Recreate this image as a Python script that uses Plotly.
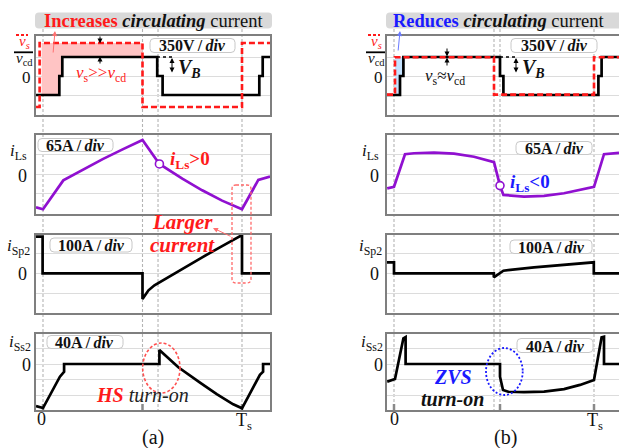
import plotly.graph_objects as go
import numpy as np

W, H = 619, 448
def X(px): return px / W
def Y(py): return 1 - py / H

# ---------------- data (t in units of Ts, y in divisions) ----------------
# (a) left column
a_vcd_t = [-0.035, 0.082, 0.082, 0.097, 0.097, 0.574, 0.574, 0.601, 0.601, 1.087, 1.087, 1.104, 1.104, 1.141]
a_vcd_y = [-1, -1, 0, 0, 1, 1, 0, 0, -1, -1, 0, 0, 1, 1]
a_vs_t = [-0.035, -0.017, -0.017, 0.5, 0.5, 1.0, 1.0, 1.141]
a_vs_y = [-1.63, -1.63, 1.74, 1.74, -1.63, -1.63, 1.74, 1.74]
a_fill_span = [-0.007, 0.5]
a_iLs_t = [-0.035, 0.0, 0.102, 0.2, 0.3, 0.4, 0.5, 0.585, 0.7, 0.8, 0.9, 1.0, 1.082, 1.141]
a_iLs_y = [-1.69, -1.79, -0.31, 0.24, 0.78, 1.28, 1.76, 0.53, -0.22, -0.82, -1.35, -1.79, -0.29, -0.12]
a_iLs_mark_t = [0.585]
a_iLs_mark_y = [0.53]
a_iSp2_t = [-0.035, -0.002, -0.002, 0.5, 0.5, 0.53, 0.56, 0.605, 0.7, 0.8, 0.9, 1.0, 1.0, 1.141]
a_iSp2_y = [1.83, 1.83, 0, 0, -1.29, -0.85, -0.6, -0.33, 0.24, 0.8, 1.36, 1.91, 0, 0]
a_iSs2_t = [-0.035, 0.0, 0.085, 0.106, 0.106, 0.585, 0.585, 0.68, 0.789, 0.873, 0.956, 1.0, 1.09, 1.106, 1.106, 1.141]
a_iSs2_y = [-2.71, -2.84, -0.82, -0.5, 0, 0, 0.9, -0.21, -1.2, -1.94, -2.6, -2.86, -0.7, -0.5, 0, 0]
a_vlines = [0.0, 0.5, 0.578, 1.0]
a_ticks = [0.0, 0.5, 1.0]

# (b) right column
b_vcd_t = [-0.035, 0.03, 0.03, 0.047, 0.047, 0.53, 0.53, 0.547, 0.547, 1.022, 1.022, 1.038, 1.038, 1.125]
b_vcd_y = [-1, -1, 0, 0, 1, 1, 0, 0, -1, -1, 0, 0, 1, 1]
b_vs_t = [-0.035, 0.005, 0.005, 0.5, 0.5, 1.0, 1.0, 1.125]
b_vs_y = [-0.98, -0.98, 0.99, 0.99, -0.98, -0.98, 0.99, 0.99]
b_fill_span = [0.005, 0.047]
b_iLs_t = [-0.034, 0.0, 0.055, 0.1, 0.2, 0.3, 0.4, 0.5, 0.53, 0.547, 0.65, 0.75, 0.85, 0.92, 1.0, 1.05, 1.125]
b_iLs_y = [-0.72, -0.64, 1.03, 1.08, 1.11, 1.06, 0.9, 0.62, -0.58, -1.06, -1.14, -1.11, -0.97, -0.82, -0.64, 1.03, 1.1]
b_iLs_mark_t = [0.53]
b_iLs_mark_y = [-0.58]
b_iSp2_t = [-0.035, 0.0, 0.0, 0.499, 0.499, 0.547, 0.7, 0.85, 0.999, 0.999, 1.125]
b_iSp2_y = [0.55, 0.55, 0, 0, -0.2, 0.13, 0.3, 0.44, 0.55, 0, 0]
b_iSs2_t = [-0.034, 0.005, 0.047, 0.058, 0.058, 0.53, 0.53, 0.545, 0.571, 0.65, 0.75, 0.85, 0.93, 1.0, 1.038, 1.05, 1.05, 1.125]
b_iSs2_y = [-1.14, -0.97, 1.66, 1.74, 0, 0, -0.82, -1.68, -1.79, -1.82, -1.78, -1.62, -1.35, -1.03, 1.72, 1.76, 0, 0]
b_vlines = [0.0, 0.5, 0.53, 1.0]
b_ticks = [0.0, 0.53, 1.0]

div_labels = ["350V", "65A", "100A", "40A"]

# ---------------- layout geometry (pixels) ----------------
cols = {"a": dict(px0=36, px1=270, t0px=43, per=199),
        "b": dict(px0=387, px1=619, t0px=394, per=200)}
rows = [dict(top=36, bot=115, zero=76, div=19.0, grid=[-1, 0, 1]),
        dict(top=135, bot=214, zero=174.3, div=19.5, grid=[-1, 0, 1]),
        dict(top=235, bot=313, zero=273.3, div=20.0, grid=[-1, 0, 1]),
        dict(top=334, bot=410, zero=364, div=15.5, grid=[-2, -1, 0, 1])]

FONT = "Liberation Serif"
RED = "#ff1a1a"
PURPLE = "#9010d0"
BLUE = "#1a1aff"
BORDER = "#7f7f7f"
LW = 2.7

fig = go.Figure()
layout = dict(width=W, height=H, margin=dict(l=0, r=0, t=0, b=0),
              paper_bgcolor="white", plot_bgcolor="rgba(0,0,0,0)", showlegend=False,
              font=dict(family=FONT, color="#111", size=15))

def axname(r, c):
    i = 2 * r + (1 if c == "a" else 2)
    return ("x" if i == 1 else f"x{i}"), ("y" if i == 1 else f"y{i}"), i

for r, rw in enumerate(rows):
    for c, cl in cols.items():
        xa, ya, i = axname(r, c)
        xr = [(cl["px0"] - cl["t0px"]) / cl["per"], (cl["px1"] - cl["t0px"]) / cl["per"]]
        yr = [(rw["zero"] - rw["bot"]) / rw["div"], (rw["zero"] - rw["top"]) / rw["div"]]
        sfx = "" if i == 1 else str(i)
        layout["xaxis" + sfx] = dict(domain=[X(cl["px0"]), X(cl["px1"])], range=xr, anchor=ya,
                                     showgrid=False, zeroline=False, showticklabels=False, ticks="",
                                     showline=True, linecolor=BORDER, linewidth=1.5, mirror=True, fixedrange=True)
        layout["yaxis" + sfx] = dict(domain=[Y(rw["bot"]), Y(rw["top"])], range=yr, anchor=xa,
                                     tickvals=rw["grid"], showticklabels=False, ticks="",
                                     showgrid=True, gridcolor="#dcdcdc", gridwidth=1, zeroline=False,
                                     showline=True, linecolor=BORDER, linewidth=1.5,
                                     mirror=(c == "a"), fixedrange=True)

def line(t, y, r, c, color, width=LW, dash=None):
    xa, ya, _ = axname(r, c)
    fig.add_trace(go.Scatter(x=t, y=y, xaxis=xa, yaxis=ya, mode="lines",
                             line=dict(color=color, width=width, dash=dash), hoverinfo="skip"))

def fill_between(vs_t, vs_y, vcd_t, vcd_y, span, r, c, color):
    xa, ya, _ = axname(r, c)
    t0, t1 = span
    top = float(np.interp(t0 + 1e-6, vs_t, vs_y))
    sub = [(t, y) for t, y in zip(vcd_t, vcd_y) if t0 < t < t1]
    bt = [t1] + [p[0] for p in reversed(sub)] + [t0]
    by = [float(np.interp(t1 - 1e-6, vcd_t, vcd_y))] + [p[1] for p in reversed(sub)] + [float(np.interp(t0 + 1e-6, vcd_t, vcd_y))]
    fig.add_trace(go.Scatter(x=[t0, t1] + bt, y=[top, top] + by, xaxis=xa, yaxis=ya, mode="lines",
                             fill="toself", fillcolor=color, line=dict(width=0), hoverinfo="skip"))

def marker(t, y, r, c):
    xa, ya, _ = axname(r, c)
    fig.add_trace(go.Scatter(x=t, y=y, xaxis=xa, yaxis=ya, mode="markers",
                             marker=dict(size=8, color="white", line=dict(color=PURPLE, width=1.6)), hoverinfo="skip"))

# (a)
fill_between(a_vs_t, a_vs_y, a_vcd_t, a_vcd_y, a_fill_span, 0, "a", "#ffc4c4")
line(a_vcd_t, a_vcd_y, 0, "a", "black")
line(a_vs_t, a_vs_y, 0, "a", RED, 2.6, "6px,3px")
line(a_iLs_t, a_iLs_y, 1, "a", PURPLE)
marker(a_iLs_mark_t, a_iLs_mark_y, 1, "a")
line(a_iSp2_t, a_iSp2_y, 2, "a", "black")
line(a_iSs2_t, a_iSs2_y, 3, "a", "black")
# (b)
fill_between(b_vs_t, b_vs_y, b_vcd_t, b_vcd_y, b_fill_span, 0, "b", "#c4e2ff")
line(b_vcd_t, b_vcd_y, 0, "b", "black")
line(b_vs_t, b_vs_y, 0, "b", RED, 2.6, "6px,3px")
line(b_iLs_t, b_iLs_y, 1, "b", PURPLE)
marker(b_iLs_mark_t, b_iLs_mark_y, 1, "b")
line(b_iSp2_t, b_iSp2_y, 2, "b", "black")
line(b_iSs2_t, b_iSs2_y, 3, "b", "black")

shapes = []
annots = []

# vertical dashed guide lines + bottom ticks
for c, vl, tk in (("a", a_vlines, a_ticks), ("b", b_vlines, b_ticks)):
    xa, _, _ = axname(3, c)
    for t in vl:
        shapes.append(dict(type="line", xref=xa, yref="paper", x0=t, x1=t, y0=Y(412), y1=Y(29),
                           line=dict(color="#b4b4b4", width=1.1, dash="3px,2px"), layer="below"))
    for t in tk:
        shapes.append(dict(type="line", xref=xa, yref="paper", x0=t, x1=t, y0=Y(410), y1=Y(404),
                           line=dict(color="#8a8a8a", width=2.5), layer="below"))

def rbox(x0, y0, x1, y1, r, fill, edge=None, dash=None, ew=1):
    pts = f"M {X(x0+r)},{Y(y0)} L {X(x1-r)},{Y(y0)} Q {X(x1)},{Y(y0)} {X(x1)},{Y(y0+r)} " \
          f"L {X(x1)},{Y(y1-r)} Q {X(x1)},{Y(y1)} {X(x1-r)},{Y(y1)} L {X(x0+r)},{Y(y1)} " \
          f"Q {X(x0)},{Y(y1)} {X(x0)},{Y(y1-r)} L {X(x0)},{Y(y0+r)} Q {X(x0)},{Y(y0)} {X(x0+r)},{Y(y0)} Z"
    shapes.append(dict(type="path", path=pts, xref="paper", yref="paper", fillcolor=fill,
                       line=dict(color=edge or "rgba(0,0,0,0)", width=ew, dash=dash), layer="above"))

def text(px, py, s, size=15, color="#111", xanchor="center"):
    annots.append(dict(x=X(px), y=Y(py), xref="paper", yref="paper", text=s, showarrow=False,
                       xanchor=xanchor, yanchor="middle", font=dict(family=FONT, size=size, color=color)))

def arrow(hx, hy, tx, ty, color="black", width=1, head=2, side="end", size=1):
    annots.append(dict(x=X(hx), y=Y(hy), xref="paper", yref="paper", ax=tx - hx, ay=ty - hy,
                       text="", showarrow=True, arrowhead=head, arrowsize=size, arrowwidth=width,
                       arrowcolor=color, arrowside=side, startarrowhead=head, startarrowsize=size))

def hline(x0, x1, y, color, width=2, dash=None):
    shapes.append(dict(type="line", xref="paper", yref="paper", x0=X(x0), x1=X(x1), y0=Y(y), y1=Y(y),
                       line=dict(color=color, width=width, dash=dash)))

# ---- titles
rbox(35, 12.5, 272, 28.5, 4, "#d9d9d9")
text(153.5, 20.5, f"<span style='color:{RED}'><b>Increases</b></span> <b><i>circulating</i></b> current", 18.5)
rbox(386, 12.5, 640, 28.5, 4, "#d9d9d9")
text(391, 20.5, f"<span style='color:{BLUE}'><b>Reduces</b></span> <b><i>circulating</i></b> current", 18.5, xanchor="left")
arrow(55, 31, 53, 54, color="#ff7070", width=1, head=2)
arrow(400, 31, 398, 52, color="#6a7aff", width=1, head=2)

# ---- y labels
def ylabels(cx, zx):
    hline(cx - 8, cx + 4, 35, RED, 2, "3px,2px")
    text(cx, 42, "<i>v<sub>s</sub></i>", 15, RED)
    hline(cx - 10, cx + 9, 52.3, "black", 1.8)
    text(cx, 58.5, "<i>v</i><sub>cd</sub>", 15)
    text(zx, 78, "0", 17)
    text(cx - 6, 152, "<i>i</i><sub>Ls</sub>", 17)
    text(zx - 4, 176, "0", 18)
    text(cx - 6, 247, "<i>i</i><sub>Sp2</sub>", 17)
    text(zx - 4, 274, "0", 18)
    text(cx - 4, 343, "<i>i</i><sub>Ss2</sub>", 17)
    text(zx, 365, "0", 18)
ylabels(24, 26)
ylabels(376, 378)

# ---- div boxes
TS = "\u2009"
def divbox(x0, y0, x1, y1, label):
    rbox(x0, y0, x1, y1, 4, "white", "#c8c8c8", None, 1)
    text((x0 + x1) / 2, (y0 + y1) / 2 + 0.5, f"<b>{label}{TS}/{TS}<i>div</i></b>", 16)
divbox(150, 38.5, 235, 52.5, div_labels[0])
divbox(511, 38.5, 597, 52.5, div_labels[0])
divbox(38, 138.5, 113, 151.5, div_labels[1])
divbox(516, 141.5, 592, 154.5, div_labels[1])
divbox(50, 238, 132, 252, div_labels[2])
divbox(510, 240, 592, 253.5, div_labels[2])
divbox(47, 335.5, 123, 348.5, div_labels[3])
divbox(517, 338.5, 593, 352.5, div_labels[3])

# ---- panel-1 annotations
arrow(100, 43.5, 100, 35)
arrow(100, 56.5, 100, 65)
text(101, 74, "<i>v</i><sub>s</sub>>><i>v</i><sub>cd</sub>", 17, RED)
hline(157, 173, 57, "black", 1.5, "dot")
arrow(172, 58, 172, 74, side="end+start")
text(189, 68, "<b><i>V<sub>B</sub></i></b>", 20)

arrow(447, 56.5, 447, 47)
arrow(447, 57.5, 447, 67)
text(445, 77, "<i>v</i><sub>s</sub>≈<i>v</i><sub>cd</sub>", 17)
hline(500, 516, 57, "black", 1.5, "dot")
arrow(516, 58, 516, 74, side="end+start")
text(533, 68, "<b><i>V<sub>B</sub></i></b>", 20)

# ---- panel-2 annotations
text(190, 160, "<b><i>i</i><sub>Ls</sub>>0</b>", 19, RED)
text(530, 183, "<b><i>i</i><sub>Ls</sub><0</b>", 19, BLUE)
rbox(232, 185, 251, 283, 4, "rgba(0,0,0,0)", "#ff6a6a", "3px,2px", 1.3)
text(182, 222, "<b><i>Larger</i></b>", 21, RED)
text(182, 245, "<b><i>current</i></b>", 21, RED)
arrow(213, 228, 232, 237, color="#ff7070", width=1, head=2)

# ---- panel-4 annotations
shapes.append(dict(type="circle", xref="paper", yref="paper", x0=X(142.7), x1=X(180), y0=Y(393), y1=Y(343),
                   line=dict(color="#ff5050", width=1.6, dash="3px,2px")))
text(142, 395, f"<span style='color:{RED}'><b><i>HS</i></b></span> <i>turn-on</i>", 20, "#222")
shapes.append(dict(type="circle", xref="paper", yref="paper", x0=X(486), x1=X(522.7), y0=Y(395), y1=Y(348),
                   line=dict(color=BLUE, width=1.8, dash="2px,2px")))
text(452.5, 377, "<b><i>ZVS</i></b>", 20, BLUE)
text(452.5, 399, "<b><i>turn-on</i></b>", 20, "#111")

# ---- bottom labels
text(41, 419, "0", 18)
text(244, 421, "T<sub>s</sub>", 18)
text(152.5, 437, "(a)", 20)
text(394, 419, "0", 18)
text(595, 421, "T<sub>s</sub>", 18)
text(505, 437, "(b)", 20)

layout["shapes"] = shapes
layout["annotations"] = annots
fig.update_layout(**layout)
fig.write_html("out.html")
